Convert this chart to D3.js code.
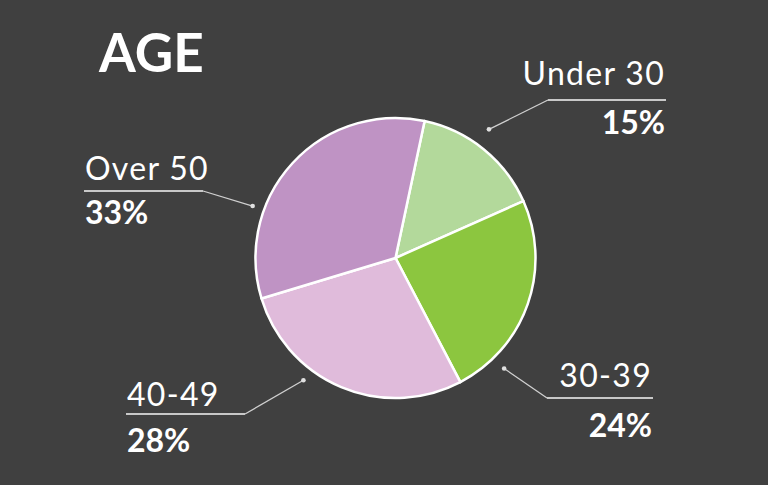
<!DOCTYPE html>
<html>
<head>
<meta charset="utf-8">
<script src="https://cdn.jsdelivr.net/npm/d3@7"></script>
<style>
  html, body { margin: 0; padding: 0; background: #404040; }
  svg { display: block; }
  text { font-family: Lato, "Open Sans", sans-serif; fill: #fff; }
</style>
</head>
<body>
<div id="chart"></div>
<script>
// data
var groups = ["Under 30", "30-39", "40-49", "Over 50"];
var shares = [15, 24, 28, 33];
var colours = ["#b3d99b", "#8cc63f", "#e0bbdb", "#bf93c4"];

// label layout (by hand, like the original)
var dotAngle = [36, 135.5, 217, 290];
var dotRadius = [159, 155, 153, 152];
var labelX = [665, 652, 127, 85];
var labelY = [85, 387, 406, 180];
var ruleY = [100, 398, 414, 191];
var ruleEnd = [548, 547, 245, 203];
var pctY = [134, 437, 452, 224];
var anchor = ["end", "end", "start", "start"];

var width = 768, height = 485;
var cx = 395.5, cy = 258, radius = 140;

var svg = d3.select('#chart').append('svg')
  .attr('width', width).attr('height', height);

svg.append('rect').attr('width', width).attr('height', height).attr('fill', '#404040');

svg.append('text')
  .attr('x', 99).attr('y', 72)
  .style('font-size', '53px').style('font-weight', 700)
  .text('AGE');

var rad = Math.PI / 180;
var pie = d3.pie().sort(null).value(function(d) { return d; })
  .startAngle(12 * rad).endAngle(372 * rad);
var arc = d3.arc().innerRadius(0).outerRadius(radius);

var g = svg.append('g').attr('transform', 'translate(' + cx + ',' + cy + ')');

g.selectAll('.slice').data(pie(shares)).enter().append('path')
  .attr('class', 'slice')
  .attr('d', arc)
  .attr('fill', function(d, i) { return colours[i]; })
  .attr('stroke', '#fff')
  .attr('stroke-width', 2.5)
  .attr('stroke-linejoin', 'round');

// labels with leader lines
groups.forEach(function(name, i) {
  var a = dotAngle[i] * rad;
  var px = cx + Math.sin(a) * dotRadius[i];
  var py = cy - Math.cos(a) * dotRadius[i];
  var farX = anchor[i] == 'end' ? labelX[i] + 1 : labelX[i] - 1;

  svg.append('polyline')
    .attr('points', [[px, py], [ruleEnd[i], ruleY[i]]].join(' '))
    .attr('fill', 'none').attr('stroke', '#d0d0d0').attr('stroke-width', 1.3);
  svg.append('line')
    .attr('x1', ruleEnd[i]).attr('y1', ruleY[i])
    .attr('x2', farX).attr('y2', ruleY[i])
    .attr('stroke', '#c8c8c8').attr('stroke-width', 2);
  svg.append('circle')
    .attr('cx', px).attr('cy', py).attr('r', 2.3).attr('fill', '#e0e0e0');

  svg.append('text')
    .attr('x', labelX[i]).attr('y', labelY[i])
    .attr('text-anchor', anchor[i])
    .style('font-size', '32px').style('font-weight', 400)
    .style('letter-spacing', '1.3px')
    .text(name);
  svg.append('text')
    .attr('x', labelX[i]).attr('y', pctY[i])
    .attr('text-anchor', anchor[i])
    .style('font-size', '32px').style('font-weight', 700)
    .text(shares[i] + '%');
});
</script>
</body>
</html>
